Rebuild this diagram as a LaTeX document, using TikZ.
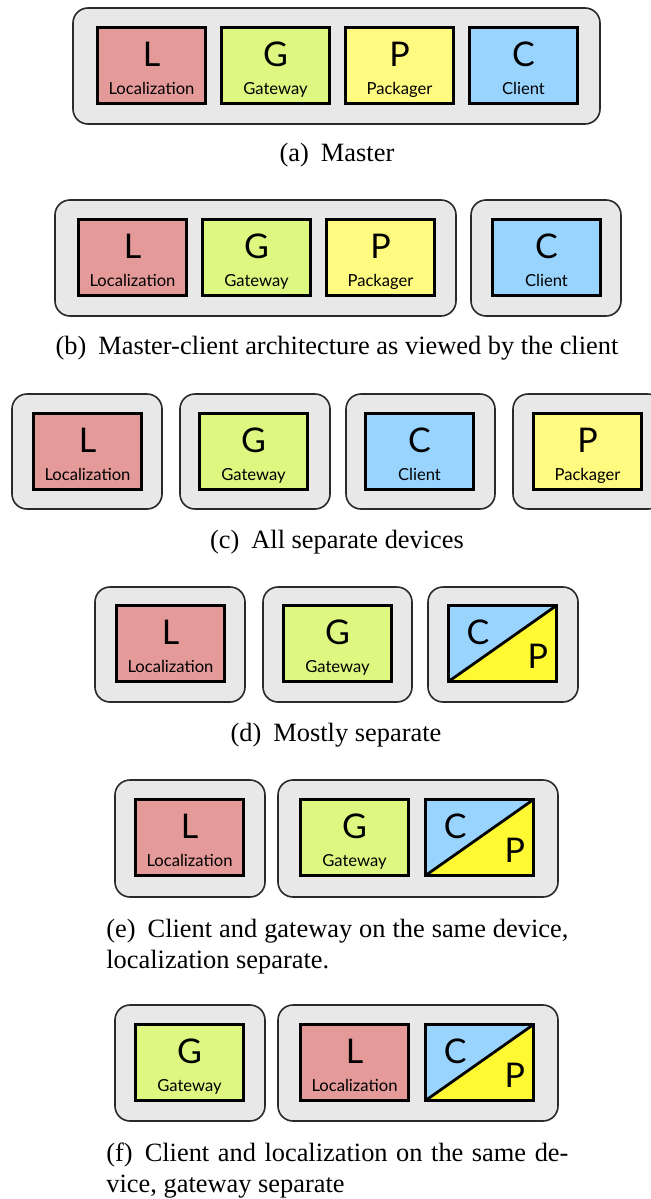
\documentclass[tikz,border=0pt]{standalone}
\usepackage{fontspec}
\setmainfont{Liberation Serif}
\newfontfamily\boxfont{Lato}
\definecolor{devfill}{HTML}{E8E8E8}
\definecolor{devline}{HTML}{2A2A2A}
\definecolor{locred}{HTML}{E59A9A}
\definecolor{gatgreen}{HTML}{DDF781}
\definecolor{pakyellow}{HTML}{FFFA80}
\definecolor{cliblue}{HTML}{99D4FF}
\definecolor{splityellow}{HTML}{FFF933}
\tikzset{
  device/.style={draw=devline, fill=devfill, line width=0.8pt, rounded corners=7.5pt},
  comp/.style={draw=black, line width=1.4pt, minimum width=54pt, minimum height=38pt, inner sep=0pt, anchor=center},
  bigletter/.style={font=\boxfont\fontsize{17}{17}\selectfont, anchor=base, inner sep=0pt},
  smalllabel/.style={font=\boxfont\fontsize{8.3}{9}\selectfont, anchor=base, inner sep=0pt},
  captext/.style={font=\fontsize{13.2}{16}\selectfont, inner sep=0pt, anchor=base},
  caplinetext/.style={font=\fontsize{13.2}{16}\selectfont, inner sep=0pt, anchor=base west},
}
% #1 name, #2 left x, #3 top y (px), #4 colour, #5 letter, #6 label
\newcommand{\compbox}[6]{%
  \node[comp, fill=#4] (#1) at (#2+55.5,#3+39.5) {};
  \node[bigletter] (#1-letter) at ([yshift=-20pt]#1.north) {#5};
  \node[smalllabel] (#1-label) at ([yshift=5pt]#1.south) {#6};
}
% split client/packager box
\newcommand{\splitbox}[3]{%
  \node[comp, path picture={
      \fill[cliblue] (path picture bounding box.north west) -- (path picture bounding box.north east) -- (path picture bounding box.south west) -- cycle;
      \fill[splityellow] (path picture bounding box.south west) -- (path picture bounding box.north east) -- (path picture bounding box.south east) -- cycle;
      \draw[line width=1.4pt] (path picture bounding box.south west) -- (path picture bounding box.north east);
    }] (#1) at (#2+55.5,#3+39.5) {};
  \node[bigletter] (#1-c) at ([xshift=15.5pt,yshift=-20pt]#1.north west) {C};
  \node[bigletter] (#1-p) at ([xshift=-10pt,yshift=-32pt]#1.north east) {P};
}
\begin{document}
\begin{tikzpicture}[x=0.5pt,y=-0.5pt]
\useasboundingbox (0,0) rectangle (650,1199);

% (a) Master
\draw[device] (73,8) rectangle (600,124);
\compbox{aL}{96}{26}{locred}{L}{Localization}
\compbox{aG}{220}{26}{gatgreen}{G}{Gateway}
\compbox{aP}{344}{26}{pakyellow}{P}{Packager}
\compbox{aC}{468}{26}{cliblue}{C}{Client}
\node[captext] (capa) at (337,161) {(a)\hskip6pt Master};

% (b)
\draw[device] (55,200) rectangle (456,316);
\draw[device] (471,200) rectangle (621,316);
\compbox{bL}{77}{218}{locred}{L}{Localization}
\compbox{bG}{201}{218}{gatgreen}{G}{Gateway}
\compbox{bP}{325}{218}{pakyellow}{P}{Packager}
\compbox{bC}{491}{218}{cliblue}{C}{Client}
\node[captext] (capb) at (337,354) {(b)\hskip6pt Master-client architecture as viewed by the client};

% (c)
\draw[device] (12,394) rectangle (162,509);
\draw[device] (180,394) rectangle (330,509);
\draw[device] (346,394) rectangle (495,509);
\draw[device] (513,394) rectangle (663,509);
\compbox{cL}{32}{412}{locred}{L}{Localization}
\compbox{cG}{198}{412}{gatgreen}{G}{Gateway}
\compbox{cC}{364}{412}{cliblue}{C}{Client}
\compbox{cP}{532}{412}{pakyellow}{P}{Packager}
\node[captext] (capc) at (337,548) {(c)\hskip6pt All separate devices};

% (d)
\draw[device] (95,587) rectangle (245,702);
\draw[device] (263,587) rectangle (412,702);
\draw[device] (428,587) rectangle (578,702);
\compbox{dL}{115}{604}{locred}{L}{Localization}
\compbox{dG}{282}{604}{gatgreen}{G}{Gateway}
\splitbox{dCP}{447}{604}
\node[captext] (capd) at (336,741) {(d)\hskip6pt Mostly separate};

% (e)
\draw[device] (115,780) rectangle (265,897);
\draw[device] (278,780) rectangle (558,897);
\compbox{eL}{134}{798}{locred}{L}{Localization}
\compbox{eG}{299}{798}{gatgreen}{G}{Gateway}
\splitbox{eCP}{424}{798}
\node[caplinetext] (cape1) at (106,937) {\makebox[231pt][s]{(e)\hskip6pt Client and gateway on the same device,}};
\node[caplinetext] (cape2) at (106,968) {localization separate.};

% (f)
\draw[device] (115,1005) rectangle (265,1121);
\draw[device] (278,1005) rectangle (558,1121);
\compbox{fG}{134}{1023}{gatgreen}{G}{Gateway}
\compbox{fL}{299}{1023}{locred}{L}{Localization}
\splitbox{fCP}{424}{1023}
\node[caplinetext] (capf1) at (106,1161) {\makebox[231pt][s]{(f)\hskip6pt Client and localization on the same de-}};
\node[caplinetext] (capf2) at (106,1192) {vice, gateway separate};
\end{tikzpicture}
\end{document}
